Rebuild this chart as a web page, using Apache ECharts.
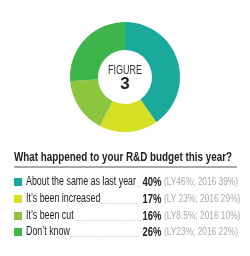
<!DOCTYPE html>
<html><head><meta charset="utf-8">
<script src="https://cdn.jsdelivr.net/npm/echarts@6/dist/echarts.min.js"></script>
<style>html,body{margin:0;padding:0;background:#fff}#c{width:250px;height:256px}</style>
</head><body><div id="c"></div>
<script>
var categories = ["About the same as last year", "It\u2019s been increased", "It\u2019s been cut", "Don\u2019t know"];
var values = [40, 17, 16, 26];
var valueLabels = ["40%", "17%", "16%", "26%"];
var notes = ["(LY46%; 2016 39%)", "(LY 23%; 2016 29%)", "(LY8.5%; 2016 10%)", "(LY23%; 2016 22%)"];
var colors = ["#1aa99b", "#d4df26", "#8cc63f", "#3db54a"];
var title = "What happened to your R&D budget this year?";
var centerTop = "FIGURE", centerNum = "3";

var FAM = '"Liberation Sans", Arial, sans-serif';
var labelFont = '12.5px ' + FAM;
var titleFont = 'bold 13px ' + FAM;
var pctFont = 'bold 13px ' + FAM;
var noteFont = '10.5px ' + FAM;
var cv = document.createElement('canvas').getContext('2d');
function tw(font, t){ cv.font = font; return cv.measureText(t).width; }
var sLabel = 110 / tw(labelFont, categories[0]);
var sTitle = 218 / tw(titleFont, title);
var sNote = 74 / tw(noteFont, notes[0]);
var sPct = 19 / tw(pctFont, valueLabels[0]);
var sFig = 34 / tw('13px ' + FAM, centerTop);

var chart = echarts.init(document.getElementById('c'), null, {renderer: 'canvas'});
var g = [];
g.push({type:'text', x:125, y:70, scaleX:sFig, style:{text:centerTop, font:'13px ' + FAM, fill:'#333', align:'center', verticalAlign:'middle'}});
g.push({type:'text', x:125, y:84, style:{text:centerNum, font:'bold 17px ' + FAM, fill:'#222', align:'center', verticalAlign:'middle'}});
g.push({type:'text', x:14, y:157, scaleX:sTitle, style:{text:title, font:titleFont, fill:'#222', verticalAlign:'middle'}});
g.push({type:'line', shape:{x1:14,y1:167,x2:237,y2:167}, style:{stroke:'#555', lineWidth:1}});
var rowY = [182, 199, 216, 232];
for (var i = 0; i < categories.length; i++) {
  var y = rowY[i];
  g.push({type:'rect', shape:{x:14, y:y-4, width:8, height:8}, style:{fill:colors[i]}});
  g.push({type:'text', x:26, y:y, scaleX:sLabel, style:{text:categories[i], font:labelFont, fill:'#222', verticalAlign:'middle'}});
  var w = tw(labelFont, categories[i]) * sLabel;
  g.push({type:'line', shape:{x1:26+w+1, y1:y+4.5, x2:141, y2:y+4.5}, style:{stroke:'#b0b0b0', lineWidth:0.8, lineDash:[1,1.5]}});
  g.push({type:'text', x:161.5, y:y, scaleX:sPct, style:{text:valueLabels[i], font:pctFont, fill:'#222', align:'right', verticalAlign:'middle'}});
  g.push({type:'text', x:164, y:y+0.5, scaleX:sNote, style:{text:notes[i], font:noteFont, fill:'#aaa', verticalAlign:'middle'}});
}
chart.setOption({
  animation:false,
  color: colors,
  series:[{
    type:'pie', center:[125,77], radius:[27,55], startAngle:90, clockwise:true,
    label:{show:false}, labelLine:{show:false}, silent:true,
    itemStyle:{borderWidth:0},
    data: categories.map(function(c,i){return {name:c, value:values[i]};})
  }],
  graphic: g
});
</script></body></html>
